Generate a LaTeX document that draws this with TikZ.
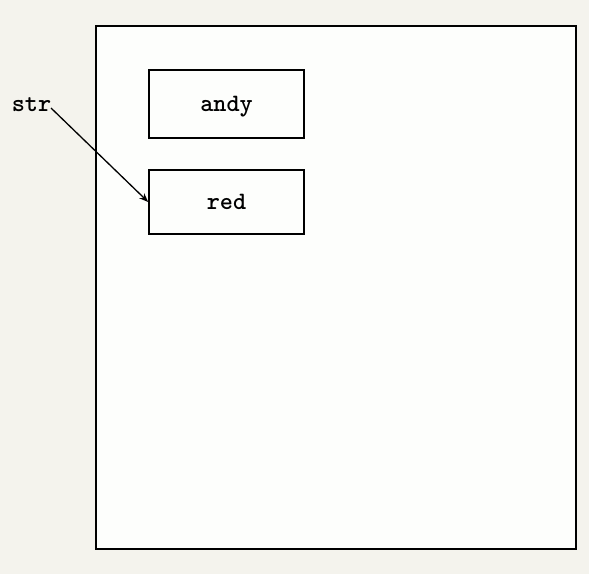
\documentclass[tikz,border=0pt]{standalone}
\usetikzlibrary{arrows.meta}

\begin{document}
\begin{tikzpicture}[x=1pt, y=-1pt, font=\ttfamily\bfseries\fontsize{25}{29}\selectfont,
		cell/.style={draw, line width=1.6pt, minimum width=155pt, text depth=0pt}]
			\fill[fill={rgb,255:red,244;green,243;blue,237}] (0, 0) rectangle (589, 574);
			\useasboundingbox (0, 0) rectangle (589, 574);
			\draw[line width=2pt, fill={rgb,255:red,253;green,254;blue,252}] (96, 26) rectangle (576, 549);
			\node[cell, minimum height=68pt] (andy) at (226.5, 104) {andy};
			\node[cell, minimum height=64pt] (red) at (226.5, 202) {red};
			\node[inner sep=0pt, text depth=0pt] (str) at (31.5, 105) {str};
			\coordinate (s) at (51, 108);
			\draw[line width=1.3pt, -{Stealth[length=9pt, width=7pt]}] (s) -- (red.west);
		\end{tikzpicture}
\end{document}
